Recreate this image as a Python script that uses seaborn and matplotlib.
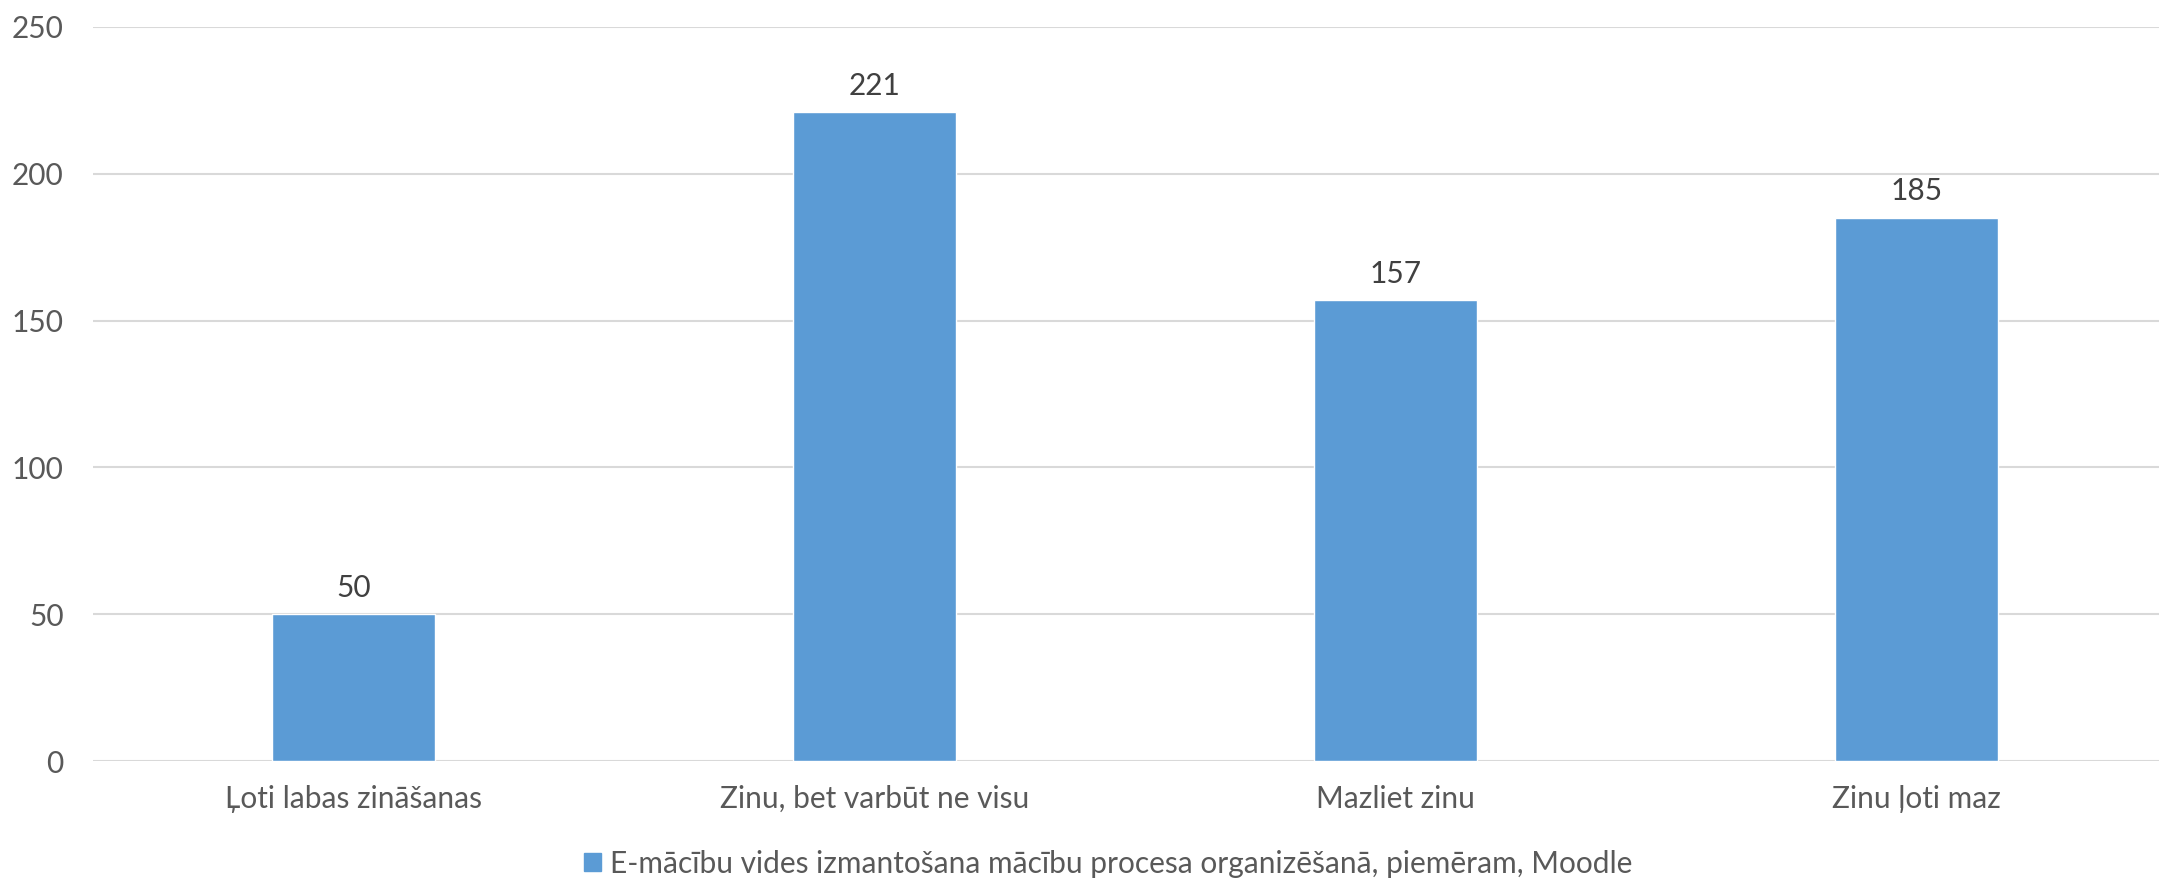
import numpy as np
import pandas as pd
import matplotlib.pyplot as plt
import seaborn as sns
from matplotlib.patches import Patch

categories = ["Ļoti labas zināšanas", "Zinu, bet varbūt ne visu", "Mazliet zinu", "Zinu ļoti maz"]
counts = [50, 221, 157, 185]
series_name = "E-mācību vides izmantošana mācību procesa organizēšanā, piemēram, Moodle"

df = pd.DataFrame({"category": categories, "count": counts})

sns.set_style("white")
plt.rcParams['font.family'] = ['Lato', 'DejaVu Sans']

bar_color = "#5B9BD5"
fs = 21.5

fig = plt.figure(figsize=(21.59, 8.8), dpi=100)
ax = fig.add_axes([93 / 2159, 1 - 761 / 880, (2177 - 93) / 2159, 734 / 880])

sns.barplot(data=df, x="category", y="count", color=bar_color, width=0.313,
            saturation=1, ax=ax)

ax.set_ylim(0, 250)
ax.set_xlim(-0.5, len(categories) - 0.5)
ax.set_yticks(range(0, 251, 50))
ax.yaxis.grid(True, color="#D9D9D9", linewidth=1.5)
ax.set_axisbelow(True)
for s in ax.spines.values():
    s.set_visible(False)
ax.tick_params(axis="both", length=0, labelsize=fs, colors="#595959")
ax.tick_params(axis="y", pad=21)
ax.tick_params(axis="x", pad=17)
ax.set_xlabel("")
ax.set_ylabel("")

ax.bar_label(ax.containers[0], labels=[str(v) for v in counts], padding=9,
             fontsize=fs, color="#404040")

fig.legend(handles=[Patch(color=bar_color, label=series_name)], loc="center",
           bbox_to_anchor=(1108 / 2159, 1 - 864 / 880), frameon=False,
           fontsize=fs, handlelength=0.55, handleheight=0.55, handletextpad=0.3,
           labelcolor="#595959")

fig.savefig("out.png", dpi=100)
